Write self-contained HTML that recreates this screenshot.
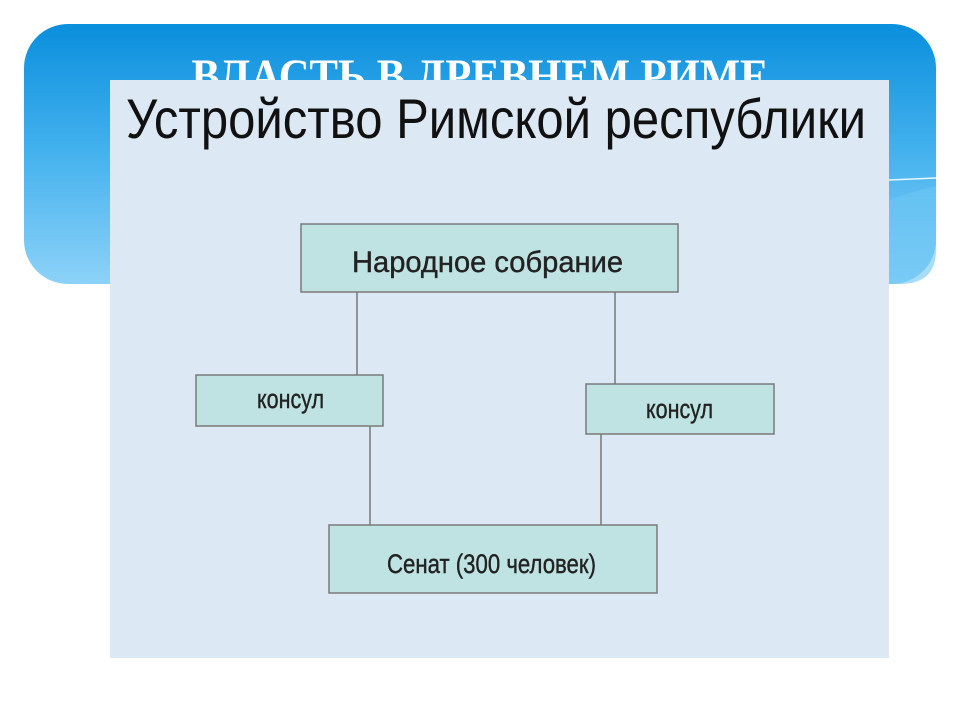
<!DOCTYPE html>
<html><head><meta charset="utf-8"><style>
html,body{margin:0;padding:0;background:#fff;width:960px;height:720px;overflow:hidden}
</style></head><body>
<svg width="960" height="720" xmlns="http://www.w3.org/2000/svg">
<defs>
<linearGradient id="g" x1="0" y1="0" x2="0" y2="1">
<stop offset="0" stop-color="#0a8fdd"/>
<stop offset="0.5" stop-color="#45b2ee"/>
<stop offset="1" stop-color="#8dd2f8"/>
</linearGradient>
</defs>
<rect x="24" y="24" width="912" height="260" rx="44" fill="url(#g)"/>
<path d="M889 180 L936 178" stroke="#e8f6ff" stroke-width="1.5"/>
<path d="M889 200 Q910 192 936 186 L936 250 Q936 284 900 284 L889 284Z" fill="#6cc6f4" opacity="0.6"/>
<text x="480" y="92" text-anchor="middle" font-family="Liberation Serif, serif" font-weight="bold" font-size="48" fill="#fff" textLength="577" lengthAdjust="spacingAndGlyphs">ВЛАСТЬ В ДРЕВНЕМ РИМЕ</text>
<rect x="110" y="80" width="779" height="578" fill="#dce9f5"/>
<text x="126" y="138" font-family="Liberation Sans, sans-serif" font-size="56" fill="#111" textLength="740" lengthAdjust="spacingAndGlyphs">Устройство Римской республики</text>
<g stroke="#777" stroke-width="1.5">
<line x1="357" y1="292" x2="357" y2="375"/>
<line x1="615" y1="292" x2="615" y2="384"/>
<line x1="370" y1="426" x2="370" y2="525"/>
<line x1="601" y1="434" x2="601" y2="525"/>
</g>
<g fill="#bfe2e2" stroke="#7a7a7a" stroke-width="1.5">
<rect x="301" y="224" width="377" height="68"/>
<rect x="196" y="375" width="187" height="51"/>
<rect x="586" y="384" width="188" height="50"/>
<rect x="329" y="525" width="328" height="68"/>
</g>
<g font-family="Liberation Sans, sans-serif" fill="#222" stroke="#222" stroke-width="0.4">
<text x="352" y="272" font-size="30" textLength="271" lengthAdjust="spacingAndGlyphs">Народное собрание</text>
<text x="257" y="408" font-size="27" textLength="67" lengthAdjust="spacingAndGlyphs">консул</text>
<text x="646" y="418" font-size="27" textLength="67" lengthAdjust="spacingAndGlyphs">консул</text>
<text x="387" y="573" font-size="27" textLength="209" lengthAdjust="spacingAndGlyphs">Сенат (300 человек)</text>
</g>
</svg>
</body></html>
